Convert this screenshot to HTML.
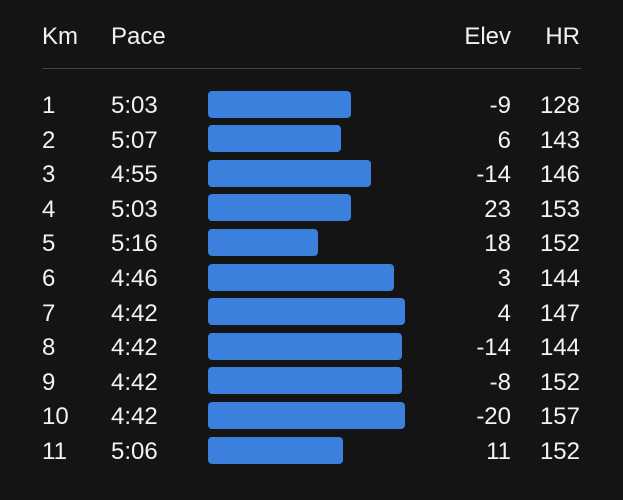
<!DOCTYPE html><html><head><style>
body{margin:0;width:623px;height:500px;background:#141414;overflow:hidden;font-family:"Liberation Sans",sans-serif;color:#f2f2f2;font-size:24px}
.t{position:absolute;line-height:1;white-space:nowrap}
.r{text-align:right}
.b{position:absolute;left:208px;height:27px;background:#3a80dc;border-radius:4px}
</style></head><body>
<div class="t" style="left:42px;top:25px">Km</div>
<div class="t" style="left:111px;top:25px">Pace</div>
<div class="t r" style="right:112px;top:25px">Elev</div>
<div class="t r" style="right:43px;top:25px">HR</div>
<div style="position:absolute;left:42px;width:539px;top:68px;height:1px;background:#444"></div>
<div id="rows"></div>
<script>
var d=[[1,"5:03",351,-9,128],[2,"5:07",341,6,143],[3,"4:55",371,-14,146],[4,"5:03",351,23,153],[5,"5:16",318,18,152],[6,"4:46",394,3,144],[7,"4:42",405,4,147],[8,"4:42",402,-14,144],[9,"4:42",402,-8,152],[10,"4:42",405,-20,157],[11,"5:06",343,11,152]];
var h="";d.forEach(function(r,i){var c=104+i*34.6,t=c-10;
h+='<div class="t" style="left:42px;top:'+t+'px">'+r[0]+'</div><div class="t" style="left:111px;top:'+t+'px">'+r[1]+'</div><div class="b" style="top:'+(c-13.5)+'px;width:'+(r[2]-208)+'px"></div><div class="t r" style="right:112px;top:'+t+'px">'+r[3]+'</div><div class="t r" style="right:43px;top:'+t+'px">'+r[4]+'</div>';});
document.getElementById("rows").innerHTML=h;
</script></body></html>
